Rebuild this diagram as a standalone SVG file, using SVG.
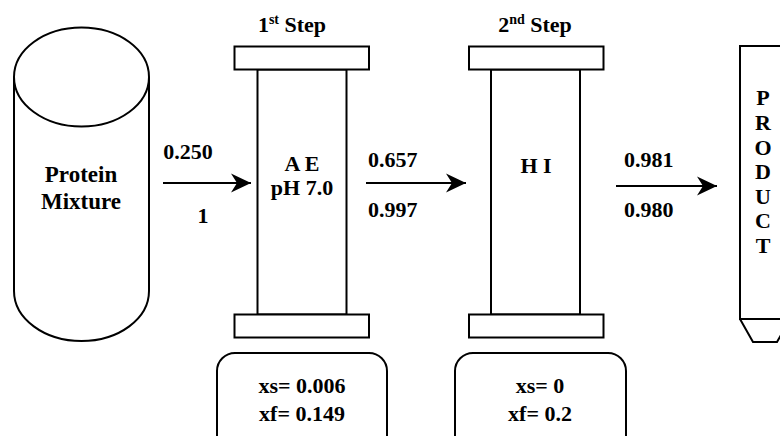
<svg xmlns="http://www.w3.org/2000/svg" width="780" height="436" viewBox="0 0 780 436">
  <defs>
    <style>
      .ln { fill: none; stroke: #000; stroke-width: 2; }
      .box { fill: #fff; stroke: #000; stroke-width: 2; }
      .t { font-family: "Liberation Serif", "Times New Roman", serif; font-weight: bold; font-size: 22px; fill: #000; }
      .c { text-anchor: middle; }
      .sup { font-size: 14px; }
    </style>
    <marker id="head" markerUnits="userSpaceOnUse" markerWidth="22" markerHeight="22" viewBox="0 0 22 22" refX="20" refY="11" orient="auto">
      <path d="M0,1.5 L20,11 L0,20.5 L6,11 z" fill="#000"/>
    </marker>
  </defs>

  <!-- feed tank -->
  <g id="protein-mixture">
    <path class="box" d="M14,77 L14,291 A67.5,50 0 0 0 149,291 L149,77"/>
    <ellipse class="box" cx="81.5" cy="77" rx="67.5" ry="49.5"/>
    <text class="t c" x="81" y="182" style="font-size:23px">Protein</text>
    <text class="t c" x="81" y="209" style="font-size:23px">Mixture</text>
  </g>

  <!-- first column: anion exchange -->
  <g id="step1-column">
    <text class="t c" x="292" y="32">1<tspan class="sup" dy="-8">st</tspan><tspan dy="8"> Step</tspan></text>
    <rect class="box" x="257.5" y="69.5" width="89" height="245"/>
    <rect class="box" x="234.5" y="46.5" width="134.5" height="23"/>
    <rect class="box" x="234.5" y="314.5" width="134.5" height="23"/>
    <text class="t c" x="302" y="171">A E</text>
    <text class="t c" x="302" y="195">pH 7.0</text>
  </g>

  <!-- second column: hydrophobic interaction -->
  <g id="step2-column">
    <text class="t c" x="535" y="32">2<tspan class="sup" dy="-8">nd</tspan><tspan dy="8"> Step</tspan></text>
    <rect class="box" x="491" y="69.5" width="89" height="245"/>
    <rect class="box" x="469" y="46.5" width="134.5" height="23"/>
    <rect class="box" x="469" y="314.5" width="134.5" height="23"/>
    <text class="t c" x="536" y="173">H I</text>
  </g>

  <!-- parameter boxes -->
  <g id="step1-params">
    <rect class="box" x="217" y="353" width="170" height="100" rx="18"/>
    <text class="t c" x="302" y="393">xs= 0.006</text>
    <text class="t c" x="302" y="421">xf= 0.149</text>
  </g>
  <g id="step2-params">
    <rect class="box" x="455" y="353" width="171" height="100" rx="18"/>
    <text class="t c" x="540" y="393">xs= 0</text>
    <text class="t c" x="540" y="421">xf= 0.2</text>
  </g>

  <!-- product vessel -->
  <g id="product">
    <rect class="box" x="740" y="46" width="50" height="273"/>
    <path class="ln" d="M740,319 L753,342 L777,342 L790,319"/>
    <text class="t c" x="763" y="105">P</text>
    <text class="t c" x="763" y="130">R</text>
    <text class="t c" x="763" y="155">O</text>
    <text class="t c" x="763" y="179">D</text>
    <text class="t c" x="763" y="204">U</text>
    <text class="t c" x="763" y="228">C</text>
    <text class="t c" x="763" y="253">T</text>
  </g>

  <!-- flow arrows with fractions -->
  <g id="connectors">
    <line class="ln" x1="163" y1="183" x2="251" y2="183" marker-end="url(#head)"/>
    <line class="ln" x1="366" y1="183" x2="466" y2="183" marker-end="url(#head)"/>
    <line class="ln" x1="616" y1="186" x2="717" y2="186" marker-end="url(#head)"/>
    <text class="t c" x="188" y="159">0.250</text>
    <text class="t c" x="203" y="223">1</text>
    <text class="t" x="368" y="167">0.657</text>
    <text class="t" x="368" y="217">0.997</text>
    <text class="t" x="624" y="167">0.981</text>
    <text class="t" x="624" y="217">0.980</text>
  </g>
</svg>
